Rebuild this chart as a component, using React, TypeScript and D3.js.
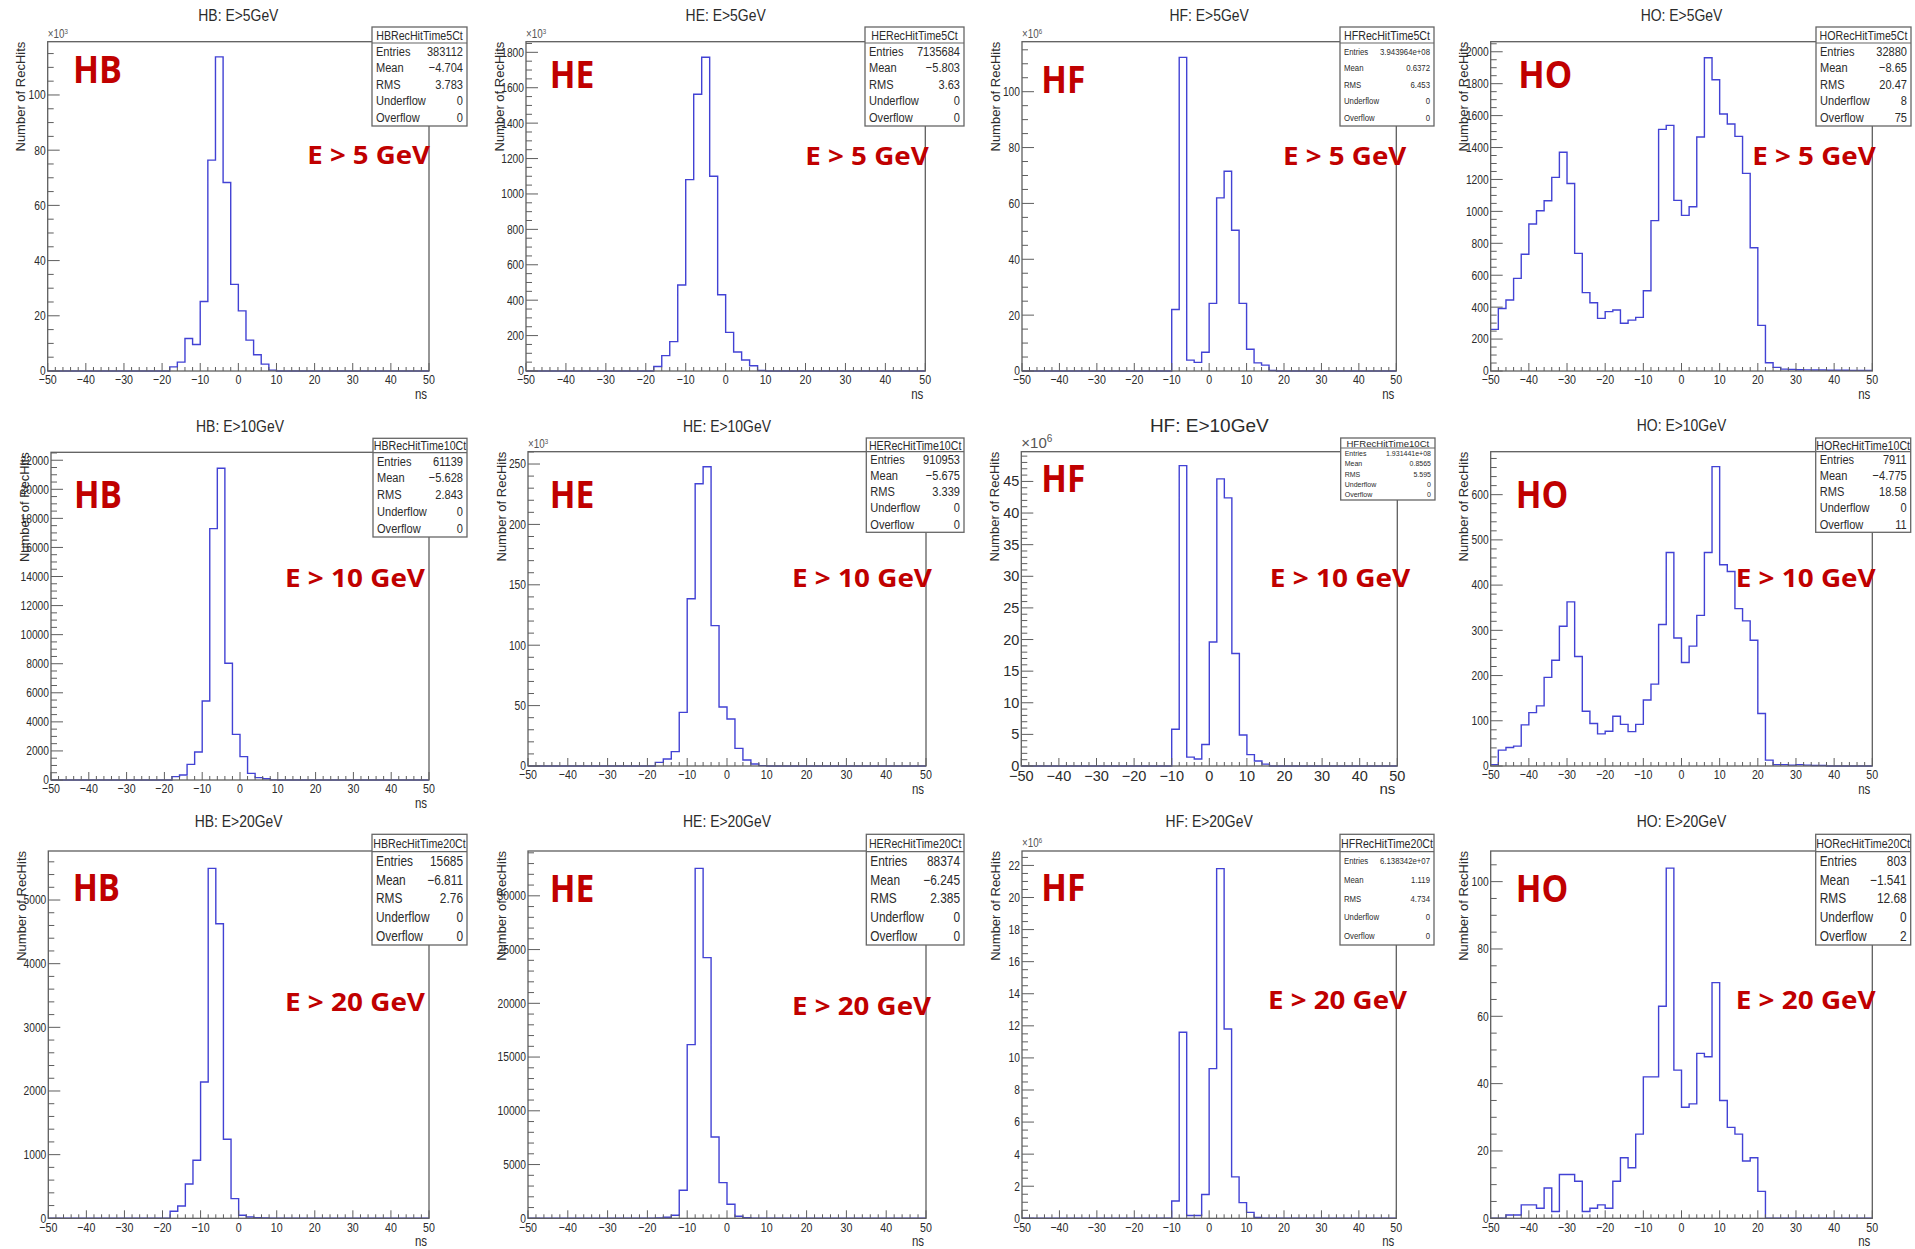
import React from 'react';
import * as d3 from 'd3';

const WIDTH = 1915;
const HEIGHT = 1249;

// x axis: 50 bins of 2 ns from -50 to 50
const X_MIN = -50;
const X_MAX = 50;
const BIN_WIDTH = 2;
const xMajorTicks = [-50, -40, -30, -20, -10, 0, 10, 20, 30, 40, 50];
const statLabels = ['Entries', 'Mean', 'RMS', 'Underflow', 'Overflow'];

// bin contents (in axis units, i.e. after the x10^n factor)
const hb5 = [
  0, 0, 0, 0, 0, 0, 0, 0, 0, 0,
  0, 0, 0, 0, 0, 0, 1.5, 3.2, 11.8, 9.6,
  25.2, 76.4, 113.8, 68.3, 31.4, 21.8, 11.2, 5.9, 2.5, 0.3,
  0, 0, 0, 0, 0, 0, 0, 0, 0, 0,
  0, 0, 0, 0, 0, 0, 0, 0, 0, 0,
];
const he5 = [
  0, 0, 0, 0, 0, 0, 0, 0, 0, 0,
  0, 0, 0, 0, 0, 0, 25, 87, 166, 486,
  1081, 1563, 1772, 1100, 431, 218, 107, 62, 30, 3,
  0, 0, 0, 0, 0, 0, 0, 0, 0, 0,
  0, 0, 0, 0, 0, 0, 0, 0, 0, 0,
];
const hf5 = [
  0, 0, 0, 0, 0, 0, 0, 0, 0, 0,
  0, 0, 0, 0, 0, 0, 0, 0, 0, 0,
  22, 112.3, 3.9, 3.1, 6.7, 24.2, 62, 71.5, 50.4, 24.2,
  7.8, 2.9, 2.1, 0.2, 0, 0, 0, 0, 0, 0,
  0, 0, 0, 0, 0, 0, 0, 0, 0, 0,
];
const ho5 = [
  261, 392, 445, 580, 731, 921, 1004, 1067, 1213, 1370,
  1175, 737, 491, 428, 330, 372, 382, 299, 319, 336,
  503, 942, 1514, 1539, 1069, 975, 1029, 1466, 1962, 1825,
  1610, 1547, 1470, 1238, 772, 286, 52, 23, 12, 10,
  8, 7, 6, 6, 5, 5, 5, 4, 4, 4,
];
const hb10 = [
  0, 0, 0, 0, 0, 0, 0, 0, 0, 0,
  0, 0, 0, 0, 0, 0, 230, 344, 1078, 1927,
  5436, 17294, 21445, 8028, 3142, 1606, 459, 160, 90, 10,
  0, 0, 0, 0, 0, 0, 0, 0, 0, 0,
  0, 0, 0, 0, 0, 0, 0, 0, 0, 0,
];
const he10 = [
  0, 0, 0, 0, 0, 0, 0, 0, 0, 0,
  0, 0, 0, 0, 0, 0, 3, 5.8, 11.9, 44.4,
  138.5, 233.7, 247.8, 116.2, 48.8, 38.9, 14.6, 5, 1.7, 0.3,
  0, 0, 0, 0, 0, 0, 0, 0, 0, 0,
  0, 0, 0, 0, 0, 0, 0, 0, 0, 0,
];
const hf10 = [
  0, 0, 0, 0, 0, 0, 0, 0, 0, 0,
  0, 0, 0, 0, 0, 0, 0, 0, 0, 0,
  5.8, 47.5, 1.4, 1.1, 3.4, 19.6, 45.4, 42.4, 17.8, 4.9,
  1.8, 0.8, 0.3, 0, 0, 0, 0, 0, 0, 0,
  0, 0, 0, 0, 0, 0, 0, 0, 0, 0,
];
const ho10 = [
  3, 35, 41, 44, 91, 118, 133, 196, 234, 309,
  363, 242, 121, 94, 71, 77, 110, 92, 76, 92,
  146, 181, 313, 472, 283, 229, 265, 333, 472, 662,
  445, 430, 348, 321, 278, 116, 13, 3, 3, 2,
  3, 2, 1, 1, 0, 0, 0, 0, 0, 0,
];
const hb20 = [
  0, 0, 0, 0, 0, 0, 0, 0, 0, 0,
  0, 0, 0, 0, 0, 0, 110, 194, 539, 911,
  2141, 5497, 4628, 1241, 309, 47, 20, 10, 5, 0,
  0, 0, 0, 0, 0, 0, 0, 0, 0, 0,
  0, 0, 0, 0, 0, 0, 0, 0, 0, 0,
];
const he20 = [
  0, 0, 0, 0, 0, 0, 0, 0, 0, 0,
  0, 0, 0, 0, 0, 0, 30, 100, 280, 2605,
  16155, 32558, 24248, 7566, 3318, 1302, 186, 50, 20, 0,
  0, 0, 0, 0, 0, 0, 0, 0, 0, 0,
  0, 0, 0, 0, 0, 0, 0, 0, 0, 0,
];
const hf20 = [
  0, 0, 0, 0, 0, 0, 0, 0, 0, 0,
  0, 0, 0, 0, 0, 0, 0, 0, 0, 0,
  1.08, 11.6, 0.17, 0.17, 1.48, 9.33, 21.8, 11.8, 2.58, 0.98,
  0.37, 0.05, 0, 0, 0, 0, 0, 0, 0, 0,
  0, 0, 0, 0, 0, 0, 0, 0, 0, 0,
];
const ho20 = [
  0, 0, 1, 1, 4, 4, 3, 9, 2, 13,
  13, 11, 2, 3, 4, 3, 11, 18, 15, 25,
  42, 42, 63, 104, 44, 33, 34, 49, 48, 70,
  35, 27, 25, 17, 18, 8, 0, 0, 0, 0,
  0, 0, 0, 0, 0, 0, 0, 0, 0, 0,
];

// stats box values
const hb5Stats = ['383112', '\u22124.704', '3.783', '0', '0'];
const he5Stats = ['7135684', '\u22125.803', '3.63', '0', '0'];
const hf5Stats = ['3.943964e+08', '0.6372', '6.453', '0', '0'];
const ho5Stats = ['32880', '\u22128.65', '20.47', '8', '75'];
const hb10Stats = ['61139', '\u22125.628', '2.843', '0', '0'];
const he10Stats = ['910953', '\u22125.675', '3.339', '0', '0'];
const hf10Stats = ['1.931441e+08', '0.8565', '5.595', '0', '0'];
const ho10Stats = ['7911', '\u22124.775', '18.58', '0', '11'];
const hb20Stats = ['15685', '\u22126.811', '2.76', '0', '0'];
const he20Stats = ['88374', '\u22126.245', '2.385', '0', '0'];
const hf20Stats = ['6.138342e+07', '1.119', '4.734', '0', '0'];
const ho20Stats = ['803', '\u22121.541', '12.68', '0', '2'];

const REGULAR = "'Liberation Sans', Arial, Helvetica, sans-serif";
const RED_FONT = "'Open Sans', 'Noto Sans', 'DejaVu Sans', sans-serif";
const NARROW_SCALE = 0.82;
const HIST_COLOR = '#4242d4';
const AXIS_COLOR = '#5e5e5e';
const TEXT_COLOR = '#2b2b2b';
const RED = '#c00000';

const panels = [
  { title: 'HB: E>5GeV', det: 'HB', cut: 'E > 5 GeV', statTitle: 'HBRecHitTime5Ct', values: hb5, stats: hb5Stats, yMax: 119.3, yMajor: 20, yMinor: 5, exp: '3', kind: 'std' },
  { title: 'HE: E>5GeV', det: 'HE', cut: 'E > 5 GeV', statTitle: 'HERecHitTime5Ct', values: he5, stats: he5Stats, yMax: 1860, yMajor: 200, yMinor: 50, exp: '3', kind: 'std' },
  { title: 'HF: E>5GeV', det: 'HF', cut: 'E > 5 GeV', statTitle: 'HFRecHitTime5Ct', values: hf5, stats: hf5Stats, yMax: 117.9, yMajor: 20, yMinor: 5, exp: '6', kind: 'small' },
  { title: 'HO: E>5GeV', det: 'HO', cut: 'E > 5 GeV', statTitle: 'HORecHitTime5Ct', values: ho5, stats: ho5Stats, yMax: 2063, yMajor: 200, yMinor: 50, exp: null, kind: 'std' },
  { title: 'HB: E>10GeV', det: 'HB', cut: 'E > 10 GeV', statTitle: 'HBRecHitTime10Ct', values: hb10, stats: hb10Stats, yMax: 22546, yMajor: 2000, yMinor: 500, exp: null, kind: 'std' },
  { title: 'HE: E>10GeV', det: 'HE', cut: 'E > 10 GeV', statTitle: 'HERecHitTime10Ct', values: he10, stats: he10Stats, yMax: 260.2, yMajor: 50, yMinor: 10, exp: '3', kind: 'std' },
  { title: 'HF: E>10GeV', det: 'HF', cut: 'E > 10 GeV', statTitle: 'HFRecHitTime10Ct', values: hf10, stats: hf10Stats, yMax: 49.7, yMajor: 5, yMinor: 1, exp: '6', kind: 'big' },
  { title: 'HO: E>10GeV', det: 'HO', cut: 'E > 10 GeV', statTitle: 'HORecHitTime10Ct', values: ho10, stats: ho10Stats, yMax: 695, yMajor: 100, yMinor: 20, exp: null, kind: 'std' },
  { title: 'HB: E>20GeV', det: 'HB', cut: 'E > 20 GeV', statTitle: 'HBRecHitTime20Ct', values: hb20, stats: hb20Stats, yMax: 5770, yMajor: 1000, yMinor: 200, exp: null, kind: 'std' },
  { title: 'HE: E>20GeV', det: 'HE', cut: 'E > 20 GeV', statTitle: 'HERecHitTime20Ct', values: he20, stats: he20Stats, yMax: 34170, yMajor: 5000, yMinor: 1000, exp: null, kind: 'std' },
  { title: 'HF: E>20GeV', det: 'HF', cut: 'E > 20 GeV', statTitle: 'HFRecHitTime20Ct', values: hf20, stats: hf20Stats, yMax: 22.9, yMajor: 2, yMinor: 0.5, exp: '6', kind: 'small' },
  { title: 'HO: E>20GeV', det: 'HO', cut: 'E > 20 GeV', statTitle: 'HORecHitTime20Ct', values: ho20, stats: ho20Stats, yMax: 109.1, yMajor: 20, yMinor: 5, exp: null, kind: 'std' },
];

// layout of each pad: frame [left, right, top, bottom], stats box [x0, x1, y0, y1, separator],
// title centre y, detector label [x, baseline, width], cut label [x, baseline, width]
const layout = [
  { frame: [47.7, 429, 41.7, 371], stats: [372, 467, 27, 126, 43], titleY: 15, det: [73, 83.3, 49], cut: [307.3, 164.3, 122.7] },
  { frame: [526, 925.3, 41.7, 371], stats: [865, 964, 27, 126, 43], titleY: 15, det: [549.7, 88.3, 44.6], cut: [805.3, 165, 123.4] },
  { frame: [1022, 1396.3, 41.7, 371], stats: [1340, 1434, 27, 126, 43], titleY: 15, det: [1041.3, 93.3, 44], cut: [1283, 165, 123.3] },
  { frame: [1490.7, 1872.3, 41.7, 371], stats: [1816, 1911, 27, 126, 43], titleY: 15, det: [1518.3, 88.3, 54], cut: [1752.3, 165, 123.4] },
  { frame: [51, 429, 452.3, 780], stats: [373, 467, 438.3, 537, 452.7], titleY: 426, det: [74, 508.3, 48], cut: [285, 587.3, 140] },
  { frame: [528, 926, 451.7, 766], stats: [866.3, 964, 438, 532.3, 451.7], titleY: 426, det: [549.7, 508.3, 44.6], cut: [792, 587.3, 140] },
  { frame: [1021.3, 1397.3, 451.7, 766], stats: [1340.7, 1435, 438, 500, 448], titleY: 425, det: [1041.3, 491.7, 44], cut: [1269.7, 587.3, 140.6] },
  { frame: [1490.7, 1872.3, 451.7, 766], stats: [1815.7, 1910.7, 438, 532.3, 451.7], titleY: 425, det: [1515.7, 508.3, 52.6], cut: [1735.7, 587.3, 140] },
  { frame: [48.3, 429, 851, 1218.3], stats: [372, 467, 834.3, 945, 851.7], titleY: 821, det: [72.7, 901, 47.3], cut: [285, 1011, 140] },
  { frame: [528, 926, 851, 1218.3], stats: [866.3, 964, 834.3, 945, 851.7], titleY: 821, det: [549.7, 901.7, 44.6], cut: [792, 1015, 139] },
  { frame: [1022, 1396.3, 851, 1218.3], stats: [1340, 1434, 834.3, 945, 851.7], titleY: 821, det: [1041.3, 901, 44], cut: [1268, 1009, 139] },
  { frame: [1490.7, 1872.3, 851, 1218.3], stats: [1815.7, 1910.7, 834.3, 945, 851.7], titleY: 821, det: [1515.7, 901.7, 52.6], cut: [1735.7, 1009, 140] },
];

const fmt = d3.format('d');

// Helvetica-narrow look: regular sans squeezed horizontally around its anchor
function Txt({ x, y, size, anchor = 'start', narrow = true, fill = TEXT_COLOR, children }) {
  const sx = narrow ? NARROW_SCALE : 1;
  return (
    <text transform={`translate(${x},${y}) scale(${sx},1)`} textAnchor={anchor} dominantBaseline="central"
      fontFamily={REGULAR} fontSize={size} fill={fill}>{children}</text>
  );
}

function Pad({ spec, lay }) {
  const [L, R, T, B] = lay.frame;
  const big = spec.kind === 'big';
  const narrow = !big;
  const x = d3.scaleLinear().domain([X_MIN, X_MAX]).range([L, R]);
  const y = d3.scaleLinear().domain([0, spec.yMax]).range([B, T]);

  // step outline of the histogram
  const pts = [];
  spec.values.forEach((v, i) => {
    const lo = X_MIN + i * BIN_WIDTH;
    pts.push([lo, v], [lo + BIN_WIDTH, v]);
  });
  const line = d3.line().x(d => x(d[0])).y(d => y(d[1]));

  const xMinor = d3.range(X_MIN, X_MAX + 0.001, BIN_WIDTH).filter(v => v % 10 !== 0);
  const yMajor = d3.range(0, spec.yMax + 1e-9, spec.yMajor);
  const yMinor = d3.range(0, spec.yMax, spec.yMinor).filter(v => Math.abs(v / spec.yMajor - Math.round(v / spec.yMajor)) > 1e-6);

  const yFmt = v => (Number.isInteger(v) ? String(v) : d3.format('.1f')(v));

  const [sx0, sx1, sy0, sy1, sSep] = lay.stats;
  const rowH = (sy1 - sSep) / statLabels.length;
  const statSize = spec.kind === 'std' ? (rowH > 17 ? 14.5 : 13.5) : spec.kind === 'small' ? 9.5 : 7;
  const statTitleSize = big ? 9.6 : 13;

  return (
    <g>
      {/* title */}
      <Txt x={(L + R) / 2} y={lay.titleY} size={big ? 19 : 17} anchor="middle" narrow={narrow}>{spec.title}</Txt>

      {/* histogram */}
      <path d={line(pts)} fill="none" stroke={HIST_COLOR} strokeWidth={1.4} />

      {/* frame */}
      <rect x={L} y={T} width={R - L} height={B - T} fill="none" stroke={AXIS_COLOR} strokeWidth={1.3} />

      {/* x axis */}
      {xMajorTicks.map(v => (
        <g key={'xm' + v}>
          <line x1={x(v)} x2={x(v)} y1={B} y2={B - 8} stroke={AXIS_COLOR} strokeWidth={1} />
          <Txt x={x(v)} y={B + (big ? 10 : 9)} size={big ? 14.5 : 13} anchor="middle" narrow={narrow}>{fmt(v)}</Txt>
        </g>
      ))}
      {xMinor.map(v => (
        <line key={'xn' + v} x1={x(v)} x2={x(v)} y1={B} y2={B - 4} stroke={AXIS_COLOR} strokeWidth={1} />
      ))}
      <Txt x={R - 2} y={B + (big ? 22 : 23)} size={big ? 15 : 14} anchor="end" narrow={narrow}>ns</Txt>

      {/* y axis */}
      {yMajor.map(v => (
        <g key={'ym' + v}>
          <line x1={L} x2={L + 12} y1={y(v)} y2={y(v)} stroke={AXIS_COLOR} strokeWidth={1} />
          <Txt x={L - 2} y={y(v)} size={big ? 14.5 : 12.5} anchor="end" narrow={narrow}>{yFmt(v)}</Txt>
        </g>
      ))}
      {yMinor.map(v => (
        <line key={'yn' + v} x1={L} x2={L + 6} y1={y(v)} y2={y(v)} stroke={AXIS_COLOR} strokeWidth={1} />
      ))}
      <text transform={`translate(${L - 27},${T}) rotate(-90)`} textAnchor="end" dominantBaseline="central"
        fontFamily={REGULAR} fontSize={13} fill={TEXT_COLOR}>Number of RecHits</text>
      {spec.exp && (
        <text transform={`translate(${L},${T - 4}) scale(${narrow ? NARROW_SCALE : 1},1)`}
          fontFamily={REGULAR} fontSize={big ? 15 : 12} fill="#555">
          {'\u00d710'}
          <tspan fontSize={big ? 10 : 7.5} dy={big ? -6 : -4}>{spec.exp}</tspan>
        </text>
      )}

      {/* stats box */}
      <rect x={sx0} y={sy0} width={sx1 - sx0} height={sy1 - sy0} fill="#fff" stroke="#666" strokeWidth={1.3} />
      <line x1={sx0} x2={sx1} y1={sSep} y2={sSep} stroke="#666" strokeWidth={1.2} />
      <Txt x={(sx0 + sx1) / 2} y={(sy0 + sSep) / 2 + 0.5} size={statTitleSize} anchor="middle" narrow={narrow}>{spec.statTitle}</Txt>
      {statLabels.map((lab, i) => (
        <g key={lab}>
          <Txt x={sx0 + 4} y={sSep + rowH * (i + 0.5)} size={statSize} narrow={narrow}>{lab}</Txt>
          <Txt x={sx1 - 4} y={sSep + rowH * (i + 0.5)} size={statSize} anchor="end" narrow={narrow}>{spec.stats[i]}</Txt>
        </g>
      ))}

      {/* red annotations */}
      <text x={lay.det[0]} y={lay.det[1]} textLength={lay.det[2]} lengthAdjust="spacingAndGlyphs"
        fontFamily={RED_FONT} fontWeight={700} fontSize={37} fill={RED}>{spec.det}</text>
      <text x={lay.cut[0]} y={lay.cut[1]} textLength={lay.cut[2]} lengthAdjust="spacingAndGlyphs"
        fontFamily={RED_FONT} fontWeight={700} fontSize={25.5} fill={RED}>{spec.cut}</text>
    </g>
  );
}

export default function App() {
  return (
    <svg width={WIDTH} height={HEIGHT} style={{ position: 'absolute', left: 0, top: 0, background: '#fff' }}>
      <rect x={0} y={0} width={WIDTH} height={HEIGHT} fill="#fff" />
      {panels.map((p, i) => (
        <Pad key={p.title} spec={p} lay={layout[i]} />
      ))}
    </svg>
  );
}
